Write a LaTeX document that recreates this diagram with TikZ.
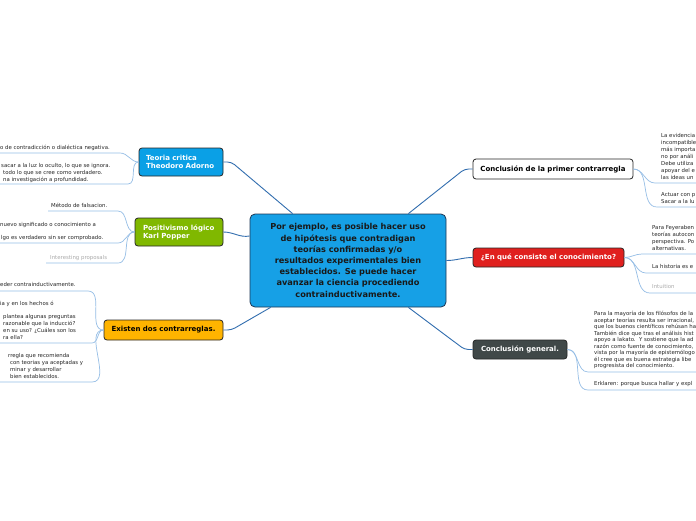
\documentclass[tikz,border=0pt]{standalone}
\usepackage{fontspec}
\setmainfont{DejaVu Sans}
\usetikzlibrary{calc}

\definecolor{mainblue}{RGB}{22,160,230}
\definecolor{mainedge}{RGB}{30,55,85}
\definecolor{tcblue}{RGB}{10,160,230}
\definecolor{plgreen}{RGB}{128,184,0}
\definecolor{exorange}{RGB}{255,180,0}
\definecolor{cqred}{RGB}{224,32,30}
\definecolor{cggray}{RGB}{64,72,72}
\definecolor{trunkblue}{RGB}{50,110,175}
\definecolor{twigblue}{RGB}{150,190,230}
\definecolor{leafgray}{RGB}{170,170,170}

\tikzset{
  topic/.style={draw=black!85, line width=0.8pt, rounded corners=3pt, inner sep=0pt,
    font=\fontsize{7}{8}\selectfont\bfseries},
  leaf/.style={anchor=base west, inner sep=0pt, align=left, text=black!85,
    font=\fontsize{5.4}{7}\selectfont},
  trunk/.style={draw=trunkblue, line width=0.9pt},
  twig/.style={draw=twigblue, line width=0.7pt},
}

\begin{document}
\begin{tikzpicture}[x=1pt,y=-1pt]
  \fill[white] (0,0) rectangle (696,520);
  \useasboundingbox (0,0) rectangle (696,520);

  % central idea
  \node[topic, fill=mainblue, draw=mainedge, rounded corners=5pt, minimum width=196pt,
    minimum height=93pt, text width=188pt, align=center, text=black!90,
    font=\fontsize{8.2}{11.2}\selectfont\bfseries] (main) at (348,260.5)
    {Por ejemplo, es posible hacer uso\\de hipótesis que contradigan\\teorías confirmadas y/o\\resultados experimentales bien\\establecidos. Se puede hacer\\avanzar la ciencia procediendo\\contrainductivamente.};

  % main topics
  \node[topic, fill=tcblue, text=white, minimum width=84pt, minimum height=28pt,
    text width=70pt, align=left] (tc) at (181,162) {Teoria critica\\Theodoro Adorno};
  \node[topic, fill=plgreen, text=white, minimum width=88pt, minimum height=28pt,
    text width=72pt, align=left] (pl) at (179,232) {Positivismo lógico\\Karl Popper};
  \node[topic, fill=exorange, minimum width=119pt, minimum height=20pt] (ex) at (163.5,330)
    {Existen dos contrarreglas.};
  \node[topic, fill=white, minimum width=160pt, minimum height=20pt] (c1) at (553,169)
    {Conclusión de la primer contrarregla};
  \node[topic, fill=cqred, text=white, minimum width=151pt, minimum height=19pt] (cq) at (548.5,257.5)
    {¿En qué consiste el conocimiento?};
  \node[topic, fill=cggray, text=white, minimum width=94pt, minimum height=19pt] (cg) at (520,349.5)
    {Conclusión general.};

  \draw[trunk, rounded corners=4pt] (tc.east) -- ++(8,0) -- ($(main.north west)+(43,0)$);
  \draw[trunk] (pl.east) to[out=0,in=190] ($(main.west)+(0,-24.5)$);
  \draw[trunk, rounded corners=4pt] (ex.east) -- ++(8,0) -- ($(main.south west)+(21,0)$);
  \draw[trunk, rounded corners=4pt] ($(main.north east)+(-38,0)$) -- ($(c1.west)+(-8,0)$) -- (c1.west);
  \draw[trunk] (main.east) to[out=0,in=180] (cq.west);
  \draw[trunk, rounded corners=4pt] ($(main.south east)+(-38,0)$) -- ($(cg.west)+(-8,0)$) -- (cg.west);

  % Teoria critica
  \node[leaf] (tc1) at (0,149) {o de contradicción o dialéctica negativa.};
  \node[leaf] (tc2) at (1,181.5) {sacar a la luz lo oculto, lo que se ignora.\\\hspace{2pt}todo lo que se cree como verdadero.\\\hspace{2pt}na investigación a profundidad.};
  \coordinate (tc1e) at (120,153); \coordinate (tc1s) at (0,153);
  \coordinate (tc2e) at (128,184); \coordinate (tc2s) at (0,184);
  \draw[twig] (tc.west) to[out=180,in=0] (tc1e) -- (tc1s);
  \draw[twig] (tc.west) to[out=180,in=0] (tc2e) -- (tc2s);

  % Positivismo logico
  \node[leaf] (pl1) at (51,207.5) {Método de falsacion.};
  \node[leaf] (pl2) at (0,239.5) {nuevo significado o conocimiento a\\[6pt]\hspace{1pt}lgo es verdadero sin ser comprobado.};
  \node[leaf, text=leafgray] (pl3) at (50,259.5) {Interesting proposals};
  \coordinate (pl1e) at (118,211); \coordinate (pl1s) at (48,211);
  \coordinate (pl2e) at (118,243); \coordinate (pl2s) at (0,243);
  \coordinate (pl3e) at (118,263); \coordinate (pl3s) at (46,263);
  \draw[twig] (pl.west) to[out=180,in=0] (pl1e) -- (pl1s);
  \draw[twig] (pl.west) to[out=180,in=0] (pl2e) -- (pl2s);
  \draw[twig] (pl.west) to[out=180,in=0] (pl3e) -- (pl3s);

  % Existen dos contrarreglas
  \node[leaf] (ex1) at (0,286.5) {eder contrainductivamente.};
  \node[leaf] (ex2) at (0,339.5) {ia y en los hechos ó\\[6pt]\hspace{3pt}plantea algunas preguntas\\\hspace{3pt}razonable que la inducció?\\\hspace{3pt}en su uso? ¿Cuáles son los\\\hspace{3pt}ra ella?};
  \node[leaf] (ex3) at (0,378.5) {\hspace{8pt}rregla que recomienda\\\hspace{10pt}con teorias ya aceptadas y\\\hspace{10pt}minar y desarrollar\\\hspace{10pt}bien establecidos.};
  \coordinate (ex1e) at (88,291); \coordinate (ex1s) at (0,291);
  \coordinate (ex2e) at (92,343); \coordinate (ex2s) at (0,343);
  \coordinate (ex3e) at (92,382); \coordinate (ex3s) at (0,382);
  \draw[twig] (ex.west) to[out=180,in=0] (ex1e) -- (ex1s);
  \draw[twig] (ex.west) to[out=180,in=0] (ex2e) -- (ex2s);
  \draw[twig] (ex.west) to[out=180,in=0] (ex3e) -- (ex3s);

  % Conclusion de la primer contrarregla
  \node[leaf] (c1a) at (661,179.5) {La evidencia\\incompatible\\más importa\\no por análi\\Debe utiliza\\apoyar del e\\las ideas un};
  \node[leaf] (c1b) at (661,203.5) {Actuar con p\\Sacar a la lu};
  \coordinate (c1ae) at (655,183); \coordinate (c1as) at (696,183);
  \coordinate (c1be) at (657,207); \coordinate (c1bs) at (696,207);
  \draw[twig] (c1.east) to[out=0,in=180] (c1ae) -- (c1as);
  \draw[twig] (c1.east) to[out=0,in=180] (c1be) -- (c1bs);

  % En que consiste el conocimiento
  \node[leaf] (cq1) at (652,250.5) {Para Feyeraben\\teorías autocon\\perspectiva. Po\\alternativas.};
  \node[leaf] (cq2) at (652,268.5) {La historia es e};
  \node[leaf, text=leafgray] (cq3) at (652,288.5) {Intuition};
  \coordinate (cq1e) at (642,254); \coordinate (cq1s) at (696,254);
  \coordinate (cq2e) at (646,273); \coordinate (cq2s) at (696,273);
  \coordinate (cq3e) at (650,293); \coordinate (cq3s) at (696,293);
  \draw[twig] (cq.east) to[out=0,in=180] (cq1e) -- (cq1s);
  \draw[twig] (cq.east) to[out=0,in=180] (cq2e) -- (cq2s);
  \draw[twig] (cq.east) to[out=0,in=180] (cq3e) -- (cq3s);

  % Conclusion general
  \node[leaf, font=\fontsize{5.4}{6.5}\selectfont] (cg1) at (594,367.5) {Para la mayoría de los filósofos de la\\aceptar teorías resulta ser irracional,\\que los buenos científicos rehúsan ha\\También dice que tras el análisis hist\\apoyo a lakato.\ \ Y sostiene que la ad\\razón como fuente de conocimiento,\\vista por la mayoría de epistemólogo\\él cree que es buena estrategia libe\\progresista del conocimiento.};
  \node[leaf] (cg2) at (594,385.5) {Erklaren: porque busca hallar y expl};
  \coordinate (cg1e) at (588,372); \coordinate (cg1s) at (696,372);
  \coordinate (cg2e) at (588,390); \coordinate (cg2s) at (696,390);
  \draw[twig] (cg.east) to[out=0,in=180] (cg1e) -- (cg1s);
  \draw[twig] (cg.east) to[out=0,in=180] (cg2e) -- (cg2s);
\end{tikzpicture}
\end{document}
